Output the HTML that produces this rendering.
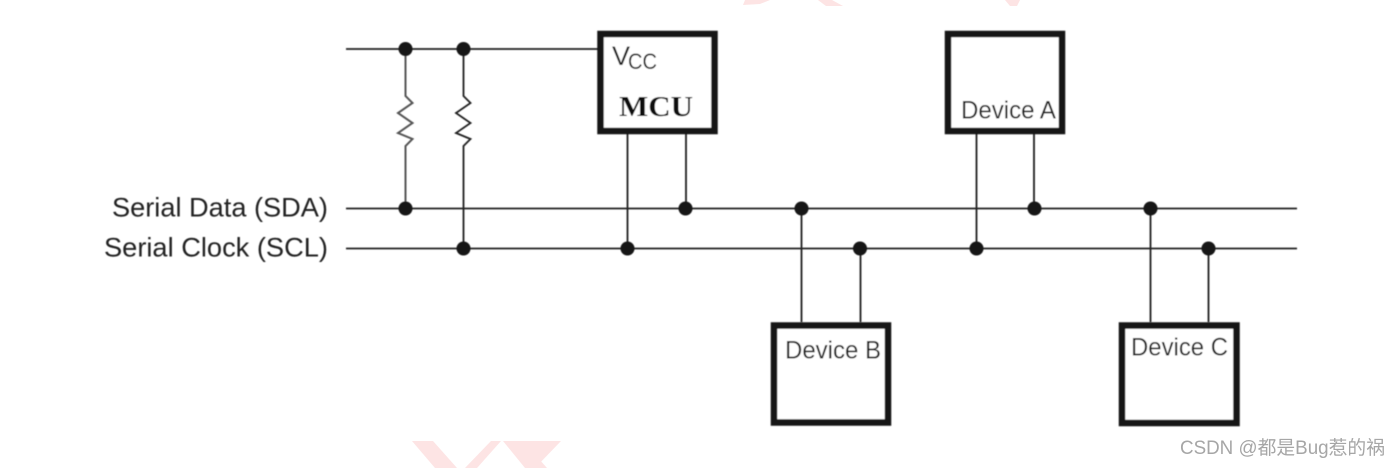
<!DOCTYPE html>
<html>
<head>
<meta charset="utf-8">
<style>
html,body{margin:0;padding:0;background:#fff;width:1399px;height:468px;overflow:hidden}
svg{display:block}
text{font-family:"Liberation Sans","Noto Sans CJK SC",sans-serif;fill:#222}
</style>
</head>
<body>
<svg width="1399" height="468" viewBox="0 0 1399 468" xmlns="http://www.w3.org/2000/svg">
<defs><filter id="b" x="-5%" y="-5%" width="110%" height="110%"><feGaussianBlur stdDeviation="0.45"/></filter></defs>
<g fill="#fde4e4">
<polygon points="412,441 433,441 457,468 435,468"/>
<polygon points="491,441 501,441 477,468 465,468"/>
<polygon points="503,441 523,441 547,468 525,468"/>
<polygon points="522,441 561,441 535,468"/>
<polygon points="743,5 760,4 770,0 745,0"/>
<polygon points="818,0 832,0 843,6 826,6"/>
<polygon points="1005,0 1020,0 1017,6 1010,6"/>
</g>
<g filter="url(#b)">
<g stroke="#222" stroke-width="1.8" fill="none">
<line x1="346" y1="49" x2="598" y2="49"/>
<line x1="346" y1="208.5" x2="1297" y2="208.5"/>
<line x1="346" y1="248.5" x2="1297" y2="248.5"/>
<polyline stroke="#555" stroke-width="2" points="405.5,49 405.5,96 412.5,103 398,113 412.5,123 398,133 412.5,139 405.5,146 405.5,208"/>
<polyline points="463.5,49 463.5,96 470.5,103 456,113 470.5,123 456,133 470.5,139 463.5,146 463.5,248"/>
<line x1="627.5" y1="134" x2="627.5" y2="248"/>
<line x1="686" y1="134" x2="686" y2="208"/>
<line x1="801.5" y1="208" x2="801.5" y2="322"/>
<line x1="860.5" y1="248" x2="860.5" y2="322"/>
<line x1="976.5" y1="134" x2="976.5" y2="248"/>
<line x1="1034" y1="134" x2="1034" y2="208"/>
<line x1="1150.5" y1="208" x2="1150.5" y2="322"/>
<line x1="1208.5" y1="248" x2="1208.5" y2="322"/>
</g>
<g fill="#141414">
<circle cx="405.5" cy="49" r="7"/><circle cx="463.5" cy="49" r="7"/>
<circle cx="405.5" cy="208.5" r="7"/><circle cx="463.5" cy="248.5" r="7"/>
<circle cx="627.5" cy="248.5" r="7"/><circle cx="685.5" cy="208.5" r="7"/>
<circle cx="801.5" cy="208.5" r="7"/><circle cx="860" cy="248.5" r="7"/>
<circle cx="976.5" cy="248.5" r="7"/><circle cx="1034.5" cy="208.5" r="7"/>
<circle cx="1150.5" cy="208.5" r="7"/><circle cx="1208.5" cy="248.5" r="7"/>
</g>
<g fill="#fff" stroke="#141414" stroke-width="6.5">
<rect x="600.5" y="34" width="114" height="97"/>
<rect x="948" y="34" width="114" height="97"/>
<rect x="774" y="325.5" width="114" height="97"/>
<rect x="1122" y="325.5" width="114.5" height="97.5"/>
</g>
<text x="112" y="216.5" font-size="27" textLength="216" lengthAdjust="spacingAndGlyphs">Serial Data (SDA)</text>
<text x="104" y="256.5" font-size="27" textLength="224" lengthAdjust="spacingAndGlyphs">Serial Clock (SCL)</text>
<text x="612" y="65" font-size="27">V</text>
<text x="628" y="69" font-size="22" textLength="29" lengthAdjust="spacingAndGlyphs">CC</text>
<text x="619" y="116" font-size="28" font-weight="bold" textLength="74" lengthAdjust="spacingAndGlyphs" style="font-family:'Liberation Serif',serif;fill:#111">MCU</text>
<text x="961" y="118.5" font-size="25" textLength="95" lengthAdjust="spacingAndGlyphs">Device A</text>
<text x="785" y="358.5" font-size="25" textLength="96" lengthAdjust="spacingAndGlyphs">Device B</text>
<text x="1131" y="355.5" font-size="25" textLength="97" lengthAdjust="spacingAndGlyphs">Device C</text>
</g>
<text x="1180" y="454" font-size="19" textLength="205" lengthAdjust="spacingAndGlyphs" style="fill:#a6a6a6">CSDN @都是Bug惹的祸</text>
</svg>
</body>
</html>
